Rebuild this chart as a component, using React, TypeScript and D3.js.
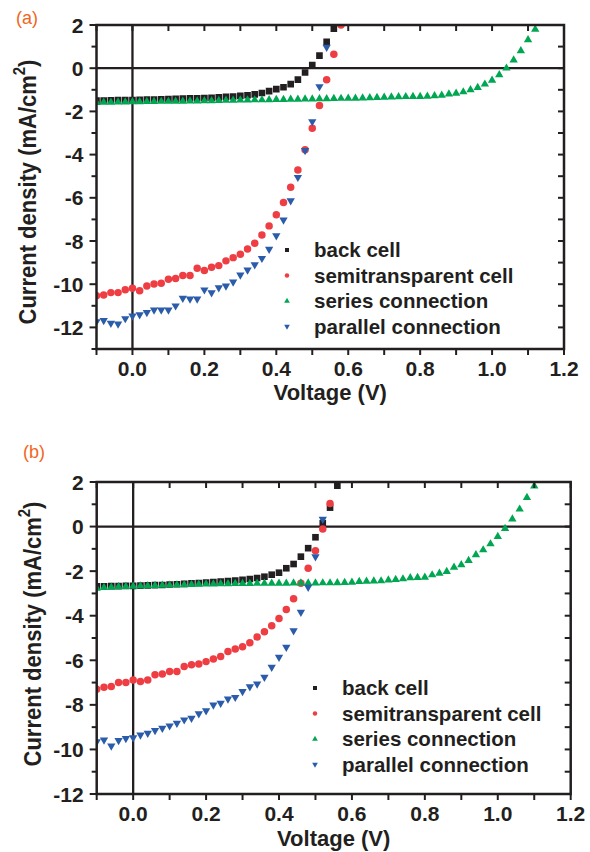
import React from 'react';
import * as d3 from 'd3';

type Pt = [number, number];

// panel (a): voltage (V), current density (mA/cm2)
const backCellA: Pt[] = [
  [-0.1, -1.5], [-0.08, -1.5], [-0.06, -1.49], [-0.04, -1.48], [-0.02, -1.48], [0, -1.47],
  [0.02, -1.46], [0.04, -1.45], [0.06, -1.45], [0.08, -1.44], [0.1, -1.43], [0.12, -1.42],
  [0.14, -1.41], [0.16, -1.4], [0.18, -1.39], [0.2, -1.38], [0.22, -1.37], [0.24, -1.35],
  [0.26, -1.33], [0.28, -1.31], [0.3, -1.28], [0.32, -1.25], [0.34, -1.21], [0.36, -1.15],
  [0.38, -1.06], [0.4, -0.97], [0.42, -0.88], [0.44, -0.74], [0.46, -0.53], [0.48, -0.2],
  [0.5, 0.15], [0.52, 0.58], [0.54, 1.22], [0.56, 1.83],
];
const semiCellA: Pt[] = [
  [-0.1, -10.54], [-0.08, -10.5], [-0.06, -10.39], [-0.04, -10.39], [-0.02, -10.26], [0, -10.19],
  [0.02, -10.3], [0.04, -10.08], [0.06, -9.99], [0.08, -9.96], [0.1, -9.77], [0.12, -9.74],
  [0.14, -9.6], [0.16, -9.6], [0.18, -9.26], [0.2, -9.37], [0.22, -9.21], [0.24, -9.14],
  [0.26, -8.92], [0.28, -8.77], [0.3, -8.61], [0.32, -8.37], [0.34, -8.1], [0.36, -7.72],
  [0.38, -7.3], [0.4, -6.79], [0.42, -6.22], [0.44, -5.51], [0.46, -4.71], [0.48, -3.78],
  [0.5, -2.78], [0.52, -1.73], [0.54, -0.54], [0.56, 0.65], [0.58, 2.0],
];
const seriesConnA: Pt[] = [
  [-0.1, -1.59], [-0.08, -1.58], [-0.06, -1.58], [-0.04, -1.57], [-0.02, -1.57], [0, -1.56],
  [0.02, -1.56], [0.04, -1.55], [0.06, -1.55], [0.08, -1.54], [0.1, -1.54], [0.12, -1.53],
  [0.14, -1.53], [0.16, -1.52], [0.18, -1.52], [0.2, -1.51], [0.22, -1.51], [0.24, -1.5],
  [0.26, -1.49], [0.28, -1.49], [0.3, -1.48], [0.32, -1.48], [0.34, -1.47], [0.36, -1.47],
  [0.38, -1.46], [0.4, -1.45], [0.42, -1.45], [0.44, -1.44], [0.46, -1.44], [0.48, -1.43],
  [0.5, -1.43], [0.52, -1.42], [0.54, -1.42], [0.56, -1.41], [0.58, -1.4], [0.6, -1.39],
  [0.62, -1.39], [0.64, -1.38], [0.66, -1.37], [0.68, -1.36], [0.7, -1.35], [0.72, -1.34],
  [0.74, -1.33], [0.76, -1.32], [0.78, -1.31], [0.8, -1.31], [0.82, -1.3], [0.84, -1.28],
  [0.86, -1.26], [0.88, -1.2], [0.9, -1.16], [0.92, -1.1], [0.94, -1.0], [0.96, -0.9],
  [0.98, -0.74], [1.0, -0.56], [1.02, -0.31], [1.04, 0.0], [1.06, 0.38], [1.08, 0.8],
  [1.1, 1.31], [1.12, 1.8],
];
const parallelConnA: Pt[] = [
  [-0.1, -11.73], [-0.08, -11.68], [-0.06, -11.8], [-0.04, -11.84], [-0.02, -11.59], [0, -11.47],
  [0.02, -11.41], [0.04, -11.31], [0.06, -11.19], [0.08, -11.19], [0.1, -11.19], [0.12, -11.0],
  [0.14, -10.65], [0.16, -10.68], [0.18, -10.68], [0.2, -10.26], [0.22, -10.39], [0.24, -10.16],
  [0.26, -10.08], [0.28, -9.89], [0.3, -9.57], [0.32, -9.34], [0.34, -9.1], [0.36, -8.8],
  [0.38, -8.38], [0.4, -7.75], [0.42, -7.02], [0.44, -6.13], [0.46, -5.05], [0.48, -3.81],
  [0.5, -2.47], [0.52, -0.85], [0.54, 0.97],
];

// panel (b)
const backCellB: Pt[] = [
  [-0.1, -2.68], [-0.08, -2.68], [-0.06, -2.67], [-0.04, -2.67], [-0.02, -2.66], [0, -2.66],
  [0.02, -2.65], [0.04, -2.64], [0.06, -2.63], [0.08, -2.62], [0.1, -2.6], [0.12, -2.59],
  [0.14, -2.57], [0.16, -2.55], [0.18, -2.53], [0.2, -2.51], [0.22, -2.49], [0.24, -2.47],
  [0.26, -2.45], [0.28, -2.42], [0.3, -2.39], [0.32, -2.35], [0.34, -2.31], [0.36, -2.25],
  [0.38, -2.16], [0.4, -2.07], [0.42, -1.87], [0.44, -1.68], [0.46, -1.35], [0.48, -0.97],
  [0.5, -0.48], [0.52, 0.15], [0.54, 0.85], [0.56, 1.84],
];
const semiCellB: Pt[] = [
  [-0.1, -7.3], [-0.08, -7.21], [-0.06, -7.18], [-0.04, -7.0], [-0.02, -7.0], [0, -6.88],
  [0.02, -6.95], [0.04, -6.88], [0.06, -6.65], [0.08, -6.62], [0.1, -6.5], [0.12, -6.5],
  [0.14, -6.28], [0.16, -6.2], [0.18, -6.17], [0.2, -6.06], [0.22, -5.94], [0.24, -5.83],
  [0.26, -5.61], [0.28, -5.49], [0.3, -5.39], [0.32, -5.21], [0.34, -4.95], [0.36, -4.72],
  [0.38, -4.45], [0.4, -4.12], [0.42, -3.72], [0.44, -3.24], [0.46, -2.54], [0.48, -1.87],
  [0.5, -1.08], [0.52, -0.11], [0.54, 1.04],
];
const seriesConnB: Pt[] = [
  [-0.1, -2.77], [-0.08, -2.74], [-0.06, -2.73], [-0.04, -2.7], [-0.02, -2.69], [0, -2.68],
  [0.02, -2.67], [0.04, -2.66], [0.06, -2.65], [0.08, -2.64], [0.1, -2.63], [0.12, -2.62],
  [0.14, -2.61], [0.16, -2.6], [0.18, -2.59], [0.2, -2.58], [0.22, -2.58], [0.24, -2.57],
  [0.26, -2.57], [0.28, -2.56], [0.3, -2.56], [0.32, -2.56], [0.34, -2.55], [0.36, -2.55],
  [0.38, -2.55], [0.4, -2.55], [0.42, -2.55], [0.44, -2.54], [0.46, -2.54], [0.48, -2.54],
  [0.5, -2.54], [0.52, -2.53], [0.54, -2.53], [0.56, -2.52], [0.58, -2.51], [0.6, -2.5],
  [0.62, -2.47], [0.64, -2.46], [0.66, -2.45], [0.68, -2.44], [0.7, -2.4], [0.72, -2.38],
  [0.74, -2.35], [0.76, -2.3], [0.78, -2.29], [0.8, -2.28], [0.82, -2.17], [0.84, -2.1],
  [0.86, -2.02], [0.88, -1.83], [0.9, -1.72], [0.92, -1.53], [0.94, -1.27], [0.96, -1.05],
  [0.98, -0.78], [1.0, -0.45], [1.02, -0.09], [1.04, 0.34], [1.06, 0.78], [1.08, 1.3],
  [1.1, 1.82],
];
const parallelConnB: Pt[] = [
  [-0.1, -9.65], [-0.08, -9.57], [-0.06, -9.84], [-0.04, -9.6], [-0.02, -9.51], [0, -9.47],
  [0.02, -9.35], [0.04, -9.27], [0.06, -9.15], [0.08, -9.05], [0.1, -8.94], [0.12, -8.82],
  [0.14, -8.67], [0.16, -8.6], [0.18, -8.4], [0.2, -8.26], [0.22, -8.0], [0.24, -7.92],
  [0.26, -7.73], [0.28, -7.66], [0.3, -7.4], [0.32, -7.18], [0.34, -7.06], [0.36, -6.76],
  [0.38, -6.31], [0.4, -5.86], [0.42, -5.41], [0.44, -4.67], [0.46, -3.84], [0.48, -2.72],
  [0.5, -1.35], [0.52, 0.33],
];

const seriesLabels = ['back cell', 'semitransparent cell', 'series connection', 'parallel connection'];
const xTickValues = [0.0, 0.2, 0.4, 0.6, 0.8, 1.0, 1.2];
const yTickValues = [2, 0, -2, -4, -6, -8, -10, -12];

const COLORS = ['#231f20', '#ee3d43', '#00a651', '#2b5ca9'];
const SYMBOLS = [d3.symbolSquare, d3.symbolCircle, d3.symbolTriangle, d3.symbolTriangle];
const SIZES = [44, 44, 30, 30];
const ROT = [0, 0, 0, 180];
const FONT = '"Liberation Sans", Arial, Helvetica, sans-serif';
const INK = '#231f20';

type Box = { left: number; right: number; top: number; bottom: number };

function Panel(props: {
  id: string;
  tag: string;
  tagX: number;
  tagY: number;
  data: Pt[][];
  yDomain: [number, number];
  box: Box;
  yTitleX: number;
  yTitleY: number;
  xTitleY: number;
  xTickY: number;
  legendX: number;
  legendY: number;
}) {
  const { id, box, data, yDomain } = props;
  const x = d3.scaleLinear().domain([-0.1, 1.2]).range([box.left, box.right]);
  const y = d3.scaleLinear().domain(yDomain).range([box.bottom, box.top]);
  const xMinor = x.ticks(13);
  const yMinor = y.ticks(yDomain[1] - yDomain[0]);
  const sym = (i: number, size: number) => d3.symbol().type(SYMBOLS[i]).size(size)() as string;

  return (
    <g>
      <text x={props.tagX} y={props.tagY} fontFamily={FONT} fontSize={18} fill="#f26522">{props.tag}</text>
      <defs>
        <clipPath id={id}>
          <rect x={box.left} y={box.top} width={box.right - box.left} height={box.bottom - box.top} />
        </clipPath>
      </defs>

      {/* zero lines */}
      <line x1={box.left} x2={box.right} y1={y(0)} y2={y(0)} stroke={INK} strokeWidth={2.3} />
      <line x1={x(0)} x2={x(0)} y1={box.top} y2={box.bottom} stroke={INK} strokeWidth={2.3} />

      <g clipPath={`url(#${id})`}>
        {data.map((pts, i) => (
          <g key={i}>
            {pts.map((p, j) => (
              <path key={j} d={sym(i, SIZES[i])} fill={COLORS[i]}
                transform={`translate(${x(p[0])},${y(p[1])}) rotate(${ROT[i]})`} />
            ))}
          </g>
        ))}
      </g>

      {/* ticks */}
      {xMinor.map((t, i) => (
        <g key={'xt' + i} stroke={INK} strokeWidth={2}>
          <line x1={x(t)} x2={x(t)} y1={box.bottom} y2={box.bottom + 6} />
          <line x1={x(t)} x2={x(t)} y1={box.top} y2={box.top + 6} />
        </g>
      ))}
      {yMinor.map((t, i) => (
        <g key={'yt' + i} stroke={INK} strokeWidth={2}>
          <line x1={box.left - (t % 2 === 0 ? 7 : 5)} x2={box.left} y1={y(t)} y2={y(t)} />
          <line x1={box.right - 6} x2={box.right} y1={y(t)} y2={y(t)} />
        </g>
      ))}
      <rect x={box.left} y={box.top} width={box.right - box.left} height={box.bottom - box.top}
        fill="none" stroke={INK} strokeWidth={2.5} />

      {/* tick labels */}
      <g fontFamily={FONT} fontWeight="bold" fontSize={21} fill={INK}>
        {xTickValues.map((t) => (
          <text key={'xl' + t} x={x(t)} y={props.xTickY} textAnchor="middle">{t.toFixed(1)}</text>
        ))}
        {yTickValues.filter((t) => t >= yDomain[0]).map((t) => (
          <text key={'yl' + t} x={box.left - 13} y={y(t) + 7.5} textAnchor="end">{t}</text>
        ))}
        <text x={(box.left + box.right) / 2} y={props.xTitleY} textAnchor="middle" fontSize={22}>Voltage (V)</text>
        <text transform={`translate(${props.yTitleX},${props.yTitleY}) rotate(-90) scale(1,1.12)`} textAnchor="middle" fontSize={22}>
          <tspan>Current density (mA/cm</tspan>
          <tspan dy={-10} fontSize={15}>2</tspan>
          <tspan dy={10}>)</tspan>
        </text>
      </g>

      {/* legend */}
      <g fontFamily={FONT} fontWeight="bold" fontSize={20.5} fill={INK}>
        {seriesLabels.map((label, i) => (
          <g key={label} transform={`translate(${props.legendX},${props.legendY + i * 25.5})`}>
            <path d={sym(i, i > 1 ? 14 : 16)} fill={COLORS[i]} transform={`rotate(${ROT[i]})`} />
            <text x={27} y={7}>{label}</text>
          </g>
        ))}
      </g>
    </g>
  );
}

export default function App() {
  return (
    <svg width={590} height={852} style={{ position: 'absolute', left: 0, top: 0, background: '#fff' }}>
      <Panel id="clipA" tag="(a)" tagX={16} tagY={24}
        data={[backCellA, semiCellA, seriesConnA, parallelConnA]}
        yDomain={[-13, 2]} box={{ left: 96.5, right: 564, top: 25, bottom: 349 }}
        yTitleX={36} yTitleY={192} xTitleY={400} xTickY={376}
        legendX={287} legendY={250} />
      <Panel id="clipB" tag="(b)" tagX={23} tagY={458}
        data={[backCellB, semiCellB, seriesConnB, parallelConnB]}
        yDomain={[-12, 2]} box={{ left: 96.7, right: 570.7, top: 482, bottom: 794 }}
        yTitleX={41} yTitleY={634} xTitleY={845.5} xTickY={820.5}
        legendX={315} legendY={688} />
    </svg>
  );
}
